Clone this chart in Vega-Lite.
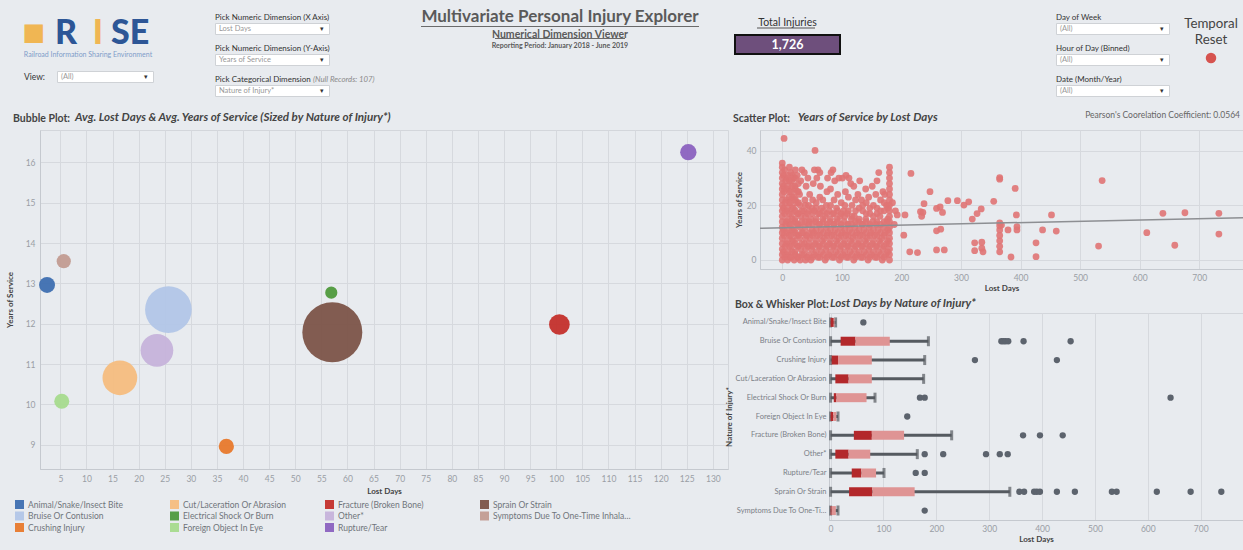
{
"$schema":"https://vega.github.io/schema/vega-lite/v6.json",
"background":"#e8ebef",
"padding":{"left":0,"top":0,"right":0,"bottom":6},
"autosize":{"type":"pad"},
"resolve":{"scale":{"color":"independent","size":"independent"},"legend":{"color":"independent","size":"independent"}},
"config":{
 "font":"Lato",
 "view":{"stroke":null},
 "axis":{"labelColor":"#9a9ea5","labelFontSize":8.5,"titleColor":"#444","titleFontSize":8,"titleFontWeight":"bold","gridColor":"#d6d9de","domainColor":"#c5c9cf","ticks":false},
 "title":{"color":"#444","fontSize":10.5,"fontWeight":"bold","anchor":"start","frame":"group","baseline":"alphabetic","offset":6},
 "legend":{"labelColor":"#70757b","labelFontSize":8.5}
},
"datasets":{
 "bubble":[
  {"cat":"Animal/Snake/Insect Bite","lostDays":2.45,"years":12.96,"n":43},
  {"cat":"Bruise Or Contusion","lostDays":25.7,"years":12.35,"n":367},
  {"cat":"Crushing Injury","lostDays":36.8,"years":8.96,"n":39},
  {"cat":"Cut/Laceration Or Abrasion","lostDays":16.4,"years":10.66,"n":203},
  {"cat":"Electrical Shock Or Burn","lostDays":56.9,"years":12.77,"n":25},
  {"cat":"Foreign Object In Eye","lostDays":5.27,"years":10.08,"n":38},
  {"cat":"Fracture (Broken Bone)","lostDays":100.6,"years":11.98,"n":72},
  {"cat":"Other*","lostDays":23.5,"years":11.34,"n":180},
  {"cat":"Rupture/Tear","lostDays":125.3,"years":16.25,"n":45},
  {"cat":"Sprain Or Strain","lostDays":57.1,"years":11.79,"n":606},
  {"cat":"Symptoms Due To One-Time Inhalation Exposure","lostDays":5.65,"years":13.55,"n":34}
 ],
 "scatter":[
  {"d":0,"y":0},{"d":0,"y":2},{"d":0,"y":4},{"d":0,"y":6},{"d":0,"y":8},{"d":0,"y":10},{"d":0,"y":12},{"d":0,"y":14},{"d":0,"y":16},{"d":0,"y":18},{"d":0,"y":20},{"d":0,"y":22},{"d":0,"y":24},{"d":0,"y":26},{"d":0,"y":28},{"d":0,"y":30},{"d":0,"y":32},{"d":0,"y":34},{"d":0,"y":35.5},
  {"d":3,"y":44.5},{"d":55,"y":40.1},
  {"d":2,"y":3},{"d":2,"y":11},{"d":2,"y":19},{"d":2,"y":27},{"d":2,"y":31},
  {"d":4,"y":1},{"d":5,"y":5},{"d":3,"y":9},{"d":6,"y":13},{"d":4,"y":17},{"d":5,"y":21},{"d":3,"y":25},{"d":6,"y":29},{"d":4,"y":33},
  {"d":7,"y":2},{"d":7,"y":6},{"d":7,"y":10},{"d":7,"y":14},{"d":7,"y":18},{"d":7,"y":22},{"d":7,"y":26},{"d":7,"y":30},
  {"d":9,"y":0},{"d":10,"y":3},{"d":9,"y":7},{"d":11,"y":11},{"d":10,"y":15},{"d":9,"y":19},{"d":11,"y":23},{"d":10,"y":27},{"d":9,"y":31},{"d":12,"y":34},
  {"d":12,"y":1},{"d":12,"y":5},{"d":12,"y":9},{"d":12,"y":13},{"d":12,"y":17},{"d":12,"y":21},{"d":12,"y":25},{"d":12,"y":29},
  {"d":15,"y":1},{"d":16,"y":5},{"d":14,"y":9},{"d":15,"y":13},{"d":16,"y":17},{"d":14,"y":21},{"d":15,"y":25},{"d":16,"y":29},{"d":14,"y":32},
  {"d":17,"y":3},{"d":17,"y":7},{"d":17,"y":11},{"d":17,"y":15},{"d":17,"y":19},{"d":17,"y":23},{"d":17,"y":27},{"d":17,"y":31},
  {"d":20,"y":0},{"d":21,"y":3},{"d":19,"y":7},{"d":20,"y":11},{"d":21,"y":15},{"d":19,"y":19},{"d":20,"y":23},{"d":21,"y":27},{"d":19,"y":30},{"d":22,"y":33},
  {"d":22,"y":2},{"d":22,"y":6},{"d":22,"y":10},{"d":22,"y":14},{"d":22,"y":18},{"d":22,"y":22},{"d":22,"y":26},{"d":22,"y":30},
  {"d":25,"y":1},{"d":26,"y":5},{"d":24,"y":9},{"d":25,"y":13},{"d":26,"y":17},{"d":24,"y":21},{"d":25,"y":25},{"d":27,"y":28},{"d":25,"y":31},
  {"d":27,"y":1},{"d":27,"y":5},{"d":27,"y":9},{"d":27,"y":13},{"d":27,"y":17},{"d":27,"y":21},{"d":27,"y":25},
  {"d":30,"y":0},{"d":31,"y":4},{"d":29,"y":8},{"d":30,"y":12},{"d":31,"y":16},{"d":30,"y":20},{"d":29,"y":24},{"d":31,"y":29},{"d":33,"y":33},
  {"d":33,"y":2},{"d":33,"y":6},{"d":33,"y":10},{"d":33,"y":14},{"d":33,"y":18},
  {"d":36,"y":2},{"d":37,"y":6},{"d":35,"y":10},{"d":38,"y":14},{"d":36,"y":18},{"d":38,"y":22},{"d":37,"y":32},{"d":40,"y":27},
  {"d":39,"y":0},{"d":39,"y":4},{"d":39,"y":8},{"d":39,"y":12},{"d":39,"y":16},{"d":39,"y":20},
  {"d":42,"y":1},{"d":43,"y":5},{"d":41,"y":9},{"d":44,"y":13},{"d":42,"y":17},{"d":44,"y":20},{"d":46,"y":24},{"d":43,"y":30},
  {"d":45,"y":2},{"d":45,"y":6},{"d":45,"y":10},{"d":45,"y":14},{"d":45,"y":18},
  {"d":48,"y":0},{"d":49,"y":4},{"d":47,"y":8},{"d":50,"y":11},{"d":48,"y":15},{"d":50,"y":19},{"d":52,"y":28},{"d":54,"y":33},
  {"d":51,"y":1},{"d":51,"y":5},{"d":51,"y":9},{"d":51,"y":13},{"d":51,"y":17},{"d":51,"y":22},
  {"d":54,"y":2},{"d":55,"y":6},{"d":53,"y":10},{"d":56,"y":14},{"d":54,"y":18},{"d":57,"y":21},{"d":58,"y":30},{"d":60,"y":33},
  {"d":57,"y":3},{"d":57,"y":7},{"d":57,"y":11},{"d":57,"y":15},{"d":57,"y":19},
  {"d":60,"y":1},{"d":61,"y":5},{"d":59,"y":9},{"d":62,"y":13},{"d":61,"y":17},{"d":63,"y":23},{"d":64,"y":27},{"d":63,"y":32},
  {"d":63,"y":1},{"d":63,"y":5},{"d":63,"y":9},{"d":63,"y":13},{"d":63,"y":17},
  {"d":66,"y":3},{"d":67,"y":7},{"d":65,"y":11},{"d":68,"y":15},{"d":66,"y":19},{"d":68,"y":22},
  {"d":69,"y":2},{"d":69,"y":6},{"d":69,"y":10},{"d":69,"y":14},{"d":69,"y":18},
  {"d":72,"y":0},{"d":73,"y":4},{"d":71,"y":8},{"d":74,"y":12},{"d":72,"y":16},{"d":74,"y":20},{"d":75,"y":25},{"d":76,"y":30},
  {"d":75,"y":1},{"d":75,"y":5},{"d":75,"y":9},{"d":75,"y":13},{"d":75,"y":17},
  {"d":78,"y":2},{"d":79,"y":6},{"d":77,"y":10},{"d":80,"y":14},{"d":79,"y":18},{"d":81,"y":26},{"d":82,"y":32},{"d":85,"y":33},
  {"d":81,"y":3},{"d":81,"y":7},{"d":81,"y":11},{"d":81,"y":15},{"d":81,"y":20},
  {"d":84,"y":1},{"d":85,"y":5},{"d":83,"y":9},{"d":86,"y":13},{"d":85,"y":17},{"d":87,"y":22},{"d":88,"y":29},
  {"d":87,"y":1},{"d":87,"y":5},{"d":87,"y":9},{"d":87,"y":13},{"d":87,"y":17},
  {"d":90,"y":3},{"d":91,"y":7},{"d":89,"y":11},{"d":92,"y":15},{"d":91,"y":19},{"d":93,"y":24},{"d":95,"y":30},
  {"d":93,"y":2},{"d":93,"y":6},{"d":93,"y":10},{"d":93,"y":14},{"d":93,"y":18},
  {"d":96,"y":0},{"d":97,"y":4},{"d":95,"y":8},{"d":98,"y":12},{"d":97,"y":16},{"d":99,"y":21},{"d":101,"y":30},
  {"d":99,"y":1},{"d":99,"y":5},{"d":99,"y":9},{"d":99,"y":13},{"d":99,"y":17},
  {"d":102,"y":2},{"d":103,"y":6},{"d":101,"y":10},{"d":104,"y":14},{"d":103,"y":18},{"d":106,"y":25},{"d":107,"y":31},
  {"d":105,"y":3},{"d":105,"y":7},{"d":105,"y":11},{"d":105,"y":16},{"d":105,"y":20},
  {"d":108,"y":1},{"d":109,"y":5},{"d":107,"y":9},{"d":110,"y":13},{"d":109,"y":17},{"d":111,"y":23},{"d":112,"y":30},
  {"d":111,"y":1},{"d":111,"y":5},{"d":111,"y":9},{"d":111,"y":13},{"d":111,"y":18},
  {"d":114,"y":3},{"d":115,"y":7},{"d":113,"y":11},{"d":116,"y":15},{"d":117,"y":20},{"d":115,"y":28},
  {"d":117,"y":2},{"d":117,"y":6},{"d":117,"y":10},{"d":117,"y":13},{"d":117,"y":16},
  {"d":120,"y":0},{"d":121,"y":4},{"d":119,"y":8},{"d":122,"y":12},{"d":121,"y":16},{"d":123,"y":22},{"d":120,"y":27},
  {"d":123,"y":1},{"d":123,"y":5},{"d":123,"y":9},{"d":123,"y":14},{"d":123,"y":18},
  {"d":126,"y":2},{"d":127,"y":6},{"d":125,"y":10},{"d":128,"y":14},{"d":129,"y":19},{"d":127,"y":24},{"d":130,"y":29},
  {"d":129,"y":3},{"d":129,"y":7},{"d":129,"y":11},{"d":129,"y":15},
  {"d":132,"y":1},{"d":133,"y":5},{"d":131,"y":9},{"d":134,"y":13},{"d":135,"y":18},{"d":133,"y":22},
  {"d":135,"y":1},{"d":135,"y":5},{"d":135,"y":9},{"d":135,"y":13},{"d":135,"y":20},
  {"d":138,"y":3},{"d":139,"y":7},{"d":137,"y":11},{"d":140,"y":15},{"d":141,"y":21},{"d":140,"y":26},
  {"d":141,"y":2},{"d":141,"y":6},{"d":141,"y":10},{"d":141,"y":14},{"d":141,"y":17},
  {"d":144,"y":0},{"d":145,"y":4},{"d":143,"y":8},{"d":146,"y":12},{"d":147,"y":17},{"d":145,"y":23},
  {"d":147,"y":1},{"d":147,"y":5},{"d":147,"y":9},{"d":147,"y":13},{"d":147,"y":19},
  {"d":150,"y":2},{"d":151,"y":6},{"d":149,"y":10},{"d":152,"y":14},{"d":153,"y":20},{"d":151,"y":27},
  {"d":153,"y":3},{"d":153,"y":7},{"d":153,"y":11},{"d":153,"y":16},
  {"d":156,"y":1},{"d":157,"y":5},{"d":155,"y":9},{"d":158,"y":13},{"d":159,"y":19},{"d":157,"y":24},{"d":159,"y":29},
  {"d":159,"y":1},{"d":159,"y":5},{"d":159,"y":9},{"d":159,"y":14},{"d":159,"y":17},
  {"d":162,"y":3},{"d":163,"y":7},{"d":161,"y":11},{"d":164,"y":16},{"d":165,"y":22},{"d":162,"y":32},
  {"d":165,"y":2},{"d":165,"y":6},{"d":165,"y":10},{"d":165,"y":13},{"d":165,"y":18},
  {"d":168,"y":0},{"d":169,"y":4},{"d":167,"y":8},{"d":170,"y":12},{"d":171,"y":18},{"d":169,"y":25},
  {"d":171,"y":1},{"d":171,"y":5},{"d":171,"y":9},{"d":171,"y":14},{"d":171,"y":21},
  {"d":174,"y":2},{"d":175,"y":6},{"d":173,"y":10},{"d":176,"y":14},{"d":175,"y":20},{"d":172,"y":24},
  {"d":177,"y":3},{"d":177,"y":7},{"d":177,"y":11},{"d":177,"y":15},{"d":177,"y":19},
  {"d":180,"y":0},{"d":180,"y":2},{"d":180,"y":4},{"d":180,"y":6},{"d":180,"y":8},{"d":180,"y":10},{"d":180,"y":12},{"d":180,"y":14},{"d":180,"y":16},{"d":180,"y":18},{"d":180,"y":20},{"d":180,"y":22},{"d":180,"y":24},{"d":180,"y":26},{"d":180,"y":28},{"d":180,"y":30},{"d":180,"y":32},{"d":180,"y":34},
  {"d":185,"y":21},{"d":188,"y":13},{"d":190,"y":18},{"d":193,"y":16.5},
  {"d":204,"y":9.1},{"d":206,"y":16.5},{"d":214,"y":3},{"d":216,"y":31.7},{"d":227,"y":2.7},{"d":232,"y":17.7},{"d":236,"y":17.4},{"d":234,"y":16},{"d":238,"y":20.6},{"d":248,"y":25},{"d":259,"y":18.9},{"d":265,"y":19.4},{"d":269,"y":17.4},{"d":259,"y":10.7},{"d":266,"y":11.3},{"d":259,"y":3.7},{"d":272,"y":3.7},{"d":278,"y":21.7},{"d":294,"y":21.7},{"d":305,"y":20.1},{"d":313,"y":21.3},{"d":319,"y":15},{"d":327,"y":17},{"d":323,"y":6.3},{"d":335,"y":6.5},{"d":323,"y":3.4},{"d":335,"y":4.3},{"d":337,"y":3},{"d":334,"y":18.7},{"d":355,"y":21.5},{"d":365,"y":29.6},{"d":365,"y":30.2},{"d":365,"y":3},{"d":365,"y":5},{"d":365,"y":7},{"d":365,"y":9},{"d":365,"y":11},{"d":365,"y":12.5},{"d":365,"y":13.6},{"d":368,"y":12.8},{"d":379,"y":11},{"d":384,"y":1.1},{"d":391,"y":26.2},{"d":393,"y":16.5},{"d":394,"y":12.2},{"d":394,"y":11},{"d":426,"y":6.3},{"d":426,"y":1.2},{"d":437,"y":11},{"d":452,"y":16.5},{"d":460,"y":10.6},{"d":531,"y":5.1},{"d":537,"y":29.1},{"d":612,"y":10},{"d":639,"y":17.1},{"d":659,"y":5.4},{"d":676,"y":17.3},{"d":733,"y":17.1},{"d":733,"y":9.5}
 ],
 "trend":[{"d":-37.4,"y":11.62},{"d":773.5,"y":15.5}],
 "boxstats":[
  {"cat":"Animal/Snake/Insect Bite","lo":0,"q1":0,"med":6,"q3":7.5,"hi":9.5},
  {"cat":"Bruise Or Contusion","lo":0,"q1":19,"med":47,"q3":112,"hi":185},
  {"cat":"Crushing Injury","lo":0,"q1":2,"med":14,"q3":78,"hi":178},
  {"cat":"Cut/Laceration Or Abrasion","lo":0,"q1":9,"med":34,"q3":78,"hi":176},
  {"cat":"Electrical Shock Or Burn","lo":0,"q1":6,"med":11,"q3":68,"hi":84},
  {"cat":"Foreign Object In Eye","lo":0,"q1":0,"med":5,"q3":11,"hi":14},
  {"cat":"Fracture (Broken Bone)","lo":0,"q1":44,"med":78,"q3":139,"hi":229},
  {"cat":"Other*","lo":0,"q1":9,"med":34,"q3":75,"hi":164},
  {"cat":"Rupture/Tear","lo":0,"q1":40,"med":58,"q3":86,"hi":101},
  {"cat":"Sprain Or Strain","lo":0,"q1":35,"med":79,"q3":159,"hi":339},
  {"cat":"Symptoms Due To One-Time Inhalation Exposure","lo":0,"q1":0,"med":2,"q3":10,"hi":14}
 ],
 "outliers":[
  {"cat":"Animal/Snake/Insect Bite","d":62},
  {"cat":"Bruise Or Contusion","d":323},{"cat":"Bruise Or Contusion","d":327},{"cat":"Bruise Or Contusion","d":331},{"cat":"Bruise Or Contusion","d":336},{"cat":"Bruise Or Contusion","d":365},{"cat":"Bruise Or Contusion","d":454},
  {"cat":"Crushing Injury","d":273},{"cat":"Crushing Injury","d":428},
  {"cat":"Electrical Shock Or Burn","d":169},{"cat":"Electrical Shock Or Burn","d":178},{"cat":"Electrical Shock Or Burn","d":643},
  {"cat":"Foreign Object In Eye","d":145},
  {"cat":"Fracture (Broken Bone)","d":364},{"cat":"Fracture (Broken Bone)","d":396},{"cat":"Fracture (Broken Bone)","d":439},
  {"cat":"Other*","d":178},{"cat":"Other*","d":213},{"cat":"Other*","d":294},{"cat":"Other*","d":320},{"cat":"Other*","d":335},
  {"cat":"Rupture/Tear","d":161},{"cat":"Rupture/Tear","d":178},
  {"cat":"Sprain Or Strain","d":357},{"cat":"Sprain Or Strain","d":366},{"cat":"Sprain Or Strain","d":385},{"cat":"Sprain Or Strain","d":390},{"cat":"Sprain Or Strain","d":396},{"cat":"Sprain Or Strain","d":428},{"cat":"Sprain Or Strain","d":462},{"cat":"Sprain Or Strain","d":532},{"cat":"Sprain Or Strain","d":541},{"cat":"Sprain Or Strain","d":617},{"cat":"Sprain Or Strain","d":681},{"cat":"Sprain Or Strain","d":739},
  {"cat":"Symptoms Due To One-Time Inhalation Exposure","d":178}
 ]
},
"spacing":130,
"bounds":"flush",
"vconcat":[
 {"hconcat":[
  {"width":25,"height":1,"data":{"values":[{}]},"mark":{"type":"point","opacity":0,"size":0}},
  {"vconcat":[
    {"width":114,"height":68,
     "layer":[
      {"data":{"values":[{"part":"icon","t":"■"}]},
       "mark":{"type":"text","fontSize":38,"color":"#f0b653","baseline":"middle"},
       "encoding":{"x":{"field":"part","type":"nominal","sort":["icon","R","I","SE"],"axis":null,"scale":{"type":"point","padding":0.28}},"text":{"field":"t"}}},
      {"data":{"values":[{"part":"R","t":"R"},{"part":"SE","t":"SE"}]},
       "mark":{"type":"text","fontSize":34,"fontWeight":900,"color":"#2d5696","baseline":"middle"},
       "encoding":{"x":{"field":"part","type":"nominal","sort":["icon","R","I","SE"],"axis":null},"text":{"field":"t"}}},
      {"data":{"values":[{"part":"I","t":"I"}]},
       "mark":{"type":"text","fontSize":34,"fontWeight":900,"color":"#f0b653","baseline":"middle"},
       "encoding":{"x":{"field":"part","type":"nominal","sort":["icon","R","I","SE"],"axis":null},"text":{"field":"t"}}},
      {"data":{"values":[{"tag":"Railroad Information Sharing Environment"}]},
       "mark":{"type":"text","fontSize":7,"color":"#7f9cc9","dy":21,"dx":6},
       "encoding":{"text":{"field":"tag"}}}
     ]},
    {"hconcat":[
      {"width":1,"height":11,"data":{"values":[{}]},"mark":{"type":"point","opacity":0,"size":0}},
      {"width":96,"height":11,"view":{"fill":"#ffffff","stroke":"#cfd2d6"},
       "title":{"text":"View:","orient":"left","angle":0,"align":"right","baseline":"middle","anchor":"middle","offset":12,"dx":21,"fontSize":8.5,"fontWeight":"normal","color":"#333"},
       "data":{"values":[{"v":"(All)","a":"▾"}]},
       "layer":[
        {"mark":{"type":"text","align":"left","dx":4,"fontSize":7.5,"color":"#999"},"encoding":{"x":{"field":"v","type":"nominal","axis":null,"scale":{"type":"point","padding":0}},"text":{"field":"v"}}},
        {"mark":{"type":"text","align":"right","dx":-5,"fontSize":7,"color":"#333"},"encoding":{"x":{"field":"a","type":"nominal","axis":null},"text":{"field":"a"}}}
       ]}
    ],"spacing":31,"bounds":"flush"}
  ],"spacing":3,"bounds":"flush"},
  {"width":190,"height":1,"data":{"values":[{}]},"mark":{"type":"point","opacity":0,"size":0}},
  {"vconcat":[
    {"width":114,"height":3,"data":{"values":[{}]},"mark":{"type":"point","opacity":0,"size":0}},
    {"width":114,"height":11,"view":{"fill":"#ffffff","stroke":"#cfd2d6"},
     "title":{"text":"Pick Numeric Dimension (X Axis)","offset":1,"fontSize":8,"fontWeight":"normal","color":"#333"},
     "data":{"values":[{"v":"Lost Days","a":"▾"}]},
     "layer":[
      {"mark":{"type":"text","align":"left","dx":4,"fontSize":7.5,"color":"#999"},"encoding":{"x":{"field":"v","type":"nominal","axis":null,"scale":{"type":"point","padding":0}},"text":{"field":"v"}}},
      {"mark":{"type":"text","align":"right","dx":-5,"fontSize":7,"color":"#333"},"encoding":{"x":{"field":"a","type":"nominal","axis":null},"text":{"field":"a"}}}
     ]},
    {"width":114,"height":11,"view":{"fill":"#ffffff","stroke":"#cfd2d6"},
     "title":{"text":"Pick Numeric Dimension (Y-Axis)","offset":1,"fontSize":8,"fontWeight":"normal","color":"#333"},
     "data":{"values":[{"v":"Years of Service","a":"▾"}]},
     "layer":[
      {"mark":{"type":"text","align":"left","dx":4,"fontSize":7.5,"color":"#999"},"encoding":{"x":{"field":"v","type":"nominal","axis":null,"scale":{"type":"point","padding":0}},"text":{"field":"v"}}},
      {"mark":{"type":"text","align":"right","dx":-5,"fontSize":7,"color":"#333"},"encoding":{"x":{"field":"a","type":"nominal","axis":null},"text":{"field":"a"}}}
     ]},
    {"width":114,"height":11,"view":{"fill":"#ffffff","stroke":"#cfd2d6"},
     "title":{"text":"Pick Categorical Dimension","offset":1,"fontSize":8,"fontWeight":"normal","color":"#333"},
     "data":{"values":[{"v":"Nature of Injury*","a":"▾"}]},
     "layer":[
      {"mark":{"type":"text","align":"left","dx":4,"fontSize":7.5,"color":"#999"},"encoding":{"x":{"field":"v","type":"nominal","axis":null,"scale":{"type":"point","padding":0}},"text":{"field":"v"}}},
      {"mark":{"type":"text","align":"right","dx":-5,"fontSize":7,"color":"#333"},"encoding":{"x":{"field":"a","type":"nominal","axis":null},"text":{"field":"a"}}}
     ]},
    {"width":114,"height":1,"data":{"values":[{}]},"mark":{"type":"point","opacity":0,"size":0},
     "title":{"text":"(Null Records: 107)","offset":32,"dx":98,"fontSize":7.8,"fontStyle":"italic","fontWeight":"normal","color":"#8a8a8a"}}
  ],"spacing":20,"bounds":"flush"},
  {"width":206,"height":1,"data":{"values":[{}]},"mark":{"type":"point","opacity":0,"size":0}},
  {"vconcat":[
    {"width":278,"height":25,"data":{"values":[{}]},"mark":{"type":"point","opacity":0,"size":0}},
    {"width":278,"height":1,"view":{"fill":"#6a6a6a"},"data":{"values":[{}]},"mark":{"type":"point","opacity":0,"size":0},
     "title":{"text":"Multivariate Personal Injury Explorer","anchor":"middle","fontSize":17,"color":"#5a5a5a","offset":0}},
    {"width":278,"height":9,"data":{"values":[{}]},"mark":{"type":"point","opacity":0,"size":0},
     "title":{"text":"Numerical Dimension Viewer","orient":"bottom","anchor":"middle","baseline":"top","offset":0,"dy":-7,"fontSize":10.5,"color":"#5a5a5a","subtitle":"Reporting Period: January 2018 - June 2019","subtitleFontSize":7,"subtitleFontWeight":"bold","subtitleColor":"#5a5a5a","subtitlePadding":1.5}},
    {"hconcat":[
      {"width":74,"height":1,"data":{"values":[{}]},"mark":{"type":"point","opacity":0,"size":0}},
      {"width":130,"height":1,"view":{"fill":"#6a6a6a"},"data":{"values":[{}]},"mark":{"type":"point","opacity":0,"size":0}}
    ],"spacing":0,"bounds":"flush"}
  ],"spacing":1,"bounds":"flush"},
  {"width":314,"height":1,"data":{"values":[{}]},"mark":{"type":"point","opacity":0,"size":0}},
  {"vconcat":[
    {"width":105,"height":20,"data":{"values":[{}]},"mark":{"type":"point","opacity":0,"size":0}},
    {"hconcat":[
      {"width":22,"height":1,"data":{"values":[{}]},"mark":{"type":"point","opacity":0,"size":0}},
      {"width":58,"height":1,"view":{"fill":"#555555"},"data":{"values":[{}]},"mark":{"type":"point","opacity":0,"size":0}}
    ],"spacing":0,"bounds":"flush"},
    {"width":105,"height":19,"view":{"fill":"#6e4f7c","stroke":"#111111","strokeWidth":2},
     "title":{"text":"Total Injuries","anchor":"middle","fontSize":10.5,"fontWeight":"normal","color":"#333","offset":6.7},
     "data":{"values":[{"total":1726}]},
     "mark":{"type":"text","color":"#ffffff","fontSize":12.5,"fontWeight":"bold"},
     "encoding":{"text":{"field":"total","type":"quantitative","format":","}}}
  ],"spacing":7.5,"bounds":"flush"},
  {"width":321,"height":1,"data":{"values":[{}]},"mark":{"type":"point","opacity":0,"size":0}},
  {"vconcat":[
    {"width":113,"height":3,"data":{"values":[{}]},"mark":{"type":"point","opacity":0,"size":0}},
    {"width":113,"height":11,"view":{"fill":"#ffffff","stroke":"#cfd2d6"},
     "title":{"text":"Day of Week","offset":1,"fontSize":8,"fontWeight":"normal","color":"#333"},
     "data":{"values":[{"v":"(All)","a":"▾"}]},
     "layer":[
      {"mark":{"type":"text","align":"left","dx":4,"fontSize":7.5,"color":"#999"},"encoding":{"x":{"field":"v","type":"nominal","axis":null,"scale":{"type":"point","padding":0}},"text":{"field":"v"}}},
      {"mark":{"type":"text","align":"right","dx":-5,"fontSize":7,"color":"#333"},"encoding":{"x":{"field":"a","type":"nominal","axis":null},"text":{"field":"a"}}}
     ]},
    {"width":113,"height":11,"view":{"fill":"#ffffff","stroke":"#cfd2d6"},
     "title":{"text":"Hour of Day (Binned)","offset":1,"fontSize":8,"fontWeight":"normal","color":"#333"},
     "data":{"values":[{"v":"(All)","a":"▾"}]},
     "layer":[
      {"mark":{"type":"text","align":"left","dx":4,"fontSize":7.5,"color":"#999"},"encoding":{"x":{"field":"v","type":"nominal","axis":null,"scale":{"type":"point","padding":0}},"text":{"field":"v"}}},
      {"mark":{"type":"text","align":"right","dx":-5,"fontSize":7,"color":"#333"},"encoding":{"x":{"field":"a","type":"nominal","axis":null},"text":{"field":"a"}}}
     ]},
    {"width":113,"height":11,"view":{"fill":"#ffffff","stroke":"#cfd2d6"},
     "title":{"text":"Date (Month/Year)","offset":1,"fontSize":8,"fontWeight":"normal","color":"#333"},
     "data":{"values":[{"v":"(All)","a":"▾"}]},
     "layer":[
      {"mark":{"type":"text","align":"left","dx":4,"fontSize":7.5,"color":"#999"},"encoding":{"x":{"field":"v","type":"nominal","axis":null,"scale":{"type":"point","padding":0}},"text":{"field":"v"}}},
      {"mark":{"type":"text","align":"right","dx":-5,"fontSize":7,"color":"#333"},"encoding":{"x":{"field":"a","type":"nominal","axis":null},"text":{"field":"a"}}}
     ]}
  ],"spacing":20,"bounds":"flush"},
  {"width":133,"height":1,"data":{"values":[{}]},"mark":{"type":"point","opacity":0,"size":0}},
  {"vconcat":[
    {"width":44,"height":1,"data":{"values":[{}]},"mark":{"type":"point","opacity":0,"size":0}},
    {"width":44,"height":16,
     "title":{"text":["Temporal","Reset"],"anchor":"middle","fontSize":13.3,"fontWeight":"normal","color":"#444","lineHeight":16,"baseline":"bottom","offset":6,"dy":16},
     "data":{"values":[{"k":"reset"}]},
     "mark":{"type":"point","filled":true,"color":"#d6534f","size":110,"opacity":1}}
  ],"spacing":49,"bounds":"flush"}
 ],"spacing":0,"bounds":"flush"},
 {"hconcat":[
  {"width":10,"height":1,"data":{"values":[{}]},"mark":{"type":"point","opacity":0,"size":0},"title":{"text":"Bubble Plot:","dx":13}},
  {"width":688,"height":339,"view":{"stroke":"#d3d6db"},
   "title":{"text":"Avg. Lost Days & Avg. Years of Service (Sized by Nature of Injury*)","fontStyle":"italic","fontSize":11.6,"dx":35},
   "data":{"name":"bubble"},
   "mark":{"type":"circle","opacity":0.95},
   "encoding":{
    "x":{"field":"lostDays","type":"quantitative","title":"Lost Days","scale":{"domain":[1.1,132.9],"nice":false,"zero":false},"axis":{"values":[5,10,15,20,25,30,35,40,45,50,55,60,65,70,75,80,85,90,95,100,105,110,115,120,125,130],"grid":true,"labelPadding":5,"titlePadding":5}},
    "y":{"field":"years","type":"quantitative","title":"Years of Service","scale":{"domain":[8.4,16.8],"nice":false,"zero":false},"axis":{"values":[9,10,11,12,13,14,15,16],"grid":true,"labelPadding":5,"titlePadding":11}},
    "size":{"field":"n","type":"quantitative","scale":{"domain":[0,606],"range":[0,3600]},"legend":null},
    "color":{"field":"cat","type":"nominal",
      "scale":{"domain":["Animal/Snake/Insect Bite","Bruise Or Contusion","Crushing Injury","Cut/Laceration Or Abrasion","Electrical Shock Or Burn","Foreign Object In Eye","Fracture (Broken Bone)","Other*","Rupture/Tear","Sprain Or Strain","Symptoms Due To One-Time Inhalation Exposure"],
               "range":["#3e6fb0","#b2c6e7","#e8792b","#f6bd7e","#4f9a3c","#a6db8d","#c4302b","#c6b3da","#8b62bf","#7c5448","#c29c91"]},
      "legend":{"orient":"none","legendX":15,"legendY":370,"columns":4,"symbolType":"square","symbolSize":81,"labelLimit":140,"columnPadding":4,"rowPadding":2.5,"gridAlign":"all","title":null,"symbolStrokeWidth":0}}
   }},
  {"vconcat":[
    {"hconcat":[
      {"width":1,"height":1,"data":{"values":[{}]},"mark":{"type":"point","opacity":0,"size":0},"title":{"text":"Scatter Plot:","dx":-25}},
      {"width":1,"height":1,"data":{"values":[{}]},"mark":{"type":"point","opacity":0,"size":0},"title":{"text":"Years of Service by Lost Days","fontStyle":"italic","fontSize":11.6,"dx":38.7}},
      {"width":483,"height":139,"view":{"stroke":"#d3d6db"},
       "title":{"text":"Pearson's Coorelation Coefficient: 0.0564","anchor":"end","fontSize":8.5,"fontWeight":"normal","color":"#666","offset":11,"dx":-3},
       "layer":[
        {"data":{"name":"scatter"},"mark":{"type":"circle","size":46,"color":"#e07474","opacity":0.9},
         "encoding":{
          "x":{"field":"d","type":"quantitative","title":"Lost Days","scale":{"domain":[-37.4,773.5],"nice":false,"zero":false},"axis":{"values":[0,50,100,150,200,250,300,350,400,450,500,550,600,650,700,750],"grid":true,"labelPadding":4,"titlePadding":3}},
          "y":{"field":"y","type":"quantitative","title":"Years of Service","scale":{"domain":[-3.3,47.6],"nice":false,"zero":false},"axis":{"values":[0,10,20,30,40],"grid":true,"labelPadding":4,"titlePadding":3}}}},
        {"data":{"name":"trend"},"mark":{"type":"line","color":"#8d8f93","strokeWidth":1.5},
         "encoding":{"x":{"field":"d","type":"quantitative","title":"Lost Days"},"y":{"field":"y","type":"quantitative","title":"Years of Service"}}}
       ]}
    ],"spacing":0,"bounds":"flush"},
    {"hconcat":[
      {"width":1,"height":1,"data":{"values":[{}]},"mark":{"type":"point","opacity":0,"size":0},"title":{"text":"Box & Whisker Plot:","dx":-23,"offset":3}},
      {"width":414,"height":207,"view":{"stroke":"#d3d6db"},
       "title":{"text":"Lost Days by Nature of Injury*","fontStyle":"italic","fontSize":11.6,"dx":1,"offset":3},
       "layer":[
        {"data":{"name":"boxstats"},"mark":{"type":"rule","color":"#555a60","strokeWidth":3},
         "encoding":{
          "y":{"field":"cat","type":"nominal","title":"Nature of Injury*","sort":["Animal/Snake/Insect Bite","Bruise Or Contusion","Crushing Injury","Cut/Laceration Or Abrasion","Electrical Shock Or Burn","Foreign Object In Eye","Fracture (Broken Bone)","Other*","Rupture/Tear","Sprain Or Strain","Symptoms Due To One-Time Inhalation Exposure"],"axis":{"labelLimit":94,"labelFontSize":7.5,"labelColor":"#7b8087","labelPadding":3,"titlePadding":1}},
          "x":{"field":"lo","type":"quantitative","title":"Lost Days","scale":{"domain":[-3,780],"nice":false,"zero":false},"axis":{"values":[0,50,100,150,200,250,300,350,400,450,500,550,600,650,700,750],"grid":true,"labelPadding":4,"titlePadding":3}},
          "x2":{"field":"hi"}}},
        {"data":{"name":"boxstats"},"transform":[{"fold":["lo","hi"],"as":["k","v"]}],"mark":{"type":"tick","color":"#555a60","thickness":3,"size":10},
         "encoding":{
          "y":{"field":"cat","type":"nominal","title":"Nature of Injury*","sort":["Animal/Snake/Insect Bite","Bruise Or Contusion","Crushing Injury","Cut/Laceration Or Abrasion","Electrical Shock Or Burn","Foreign Object In Eye","Fracture (Broken Bone)","Other*","Rupture/Tear","Sprain Or Strain","Symptoms Due To One-Time Inhalation Exposure"]},
          "x":{"field":"v","type":"quantitative","title":"Lost Days"}}},
        {"data":{"name":"boxstats"},"mark":{"type":"bar","color":"#b3282b","size":9},
         "encoding":{
          "y":{"field":"cat","type":"nominal","title":"Nature of Injury*","sort":["Animal/Snake/Insect Bite","Bruise Or Contusion","Crushing Injury","Cut/Laceration Or Abrasion","Electrical Shock Or Burn","Foreign Object In Eye","Fracture (Broken Bone)","Other*","Rupture/Tear","Sprain Or Strain","Symptoms Due To One-Time Inhalation Exposure"]},
          "x":{"field":"q1","type":"quantitative","title":"Lost Days"},"x2":{"field":"med"}}},
        {"data":{"name":"boxstats"},"mark":{"type":"bar","color":"#df9494","size":9},
         "encoding":{
          "y":{"field":"cat","type":"nominal","title":"Nature of Injury*","sort":["Animal/Snake/Insect Bite","Bruise Or Contusion","Crushing Injury","Cut/Laceration Or Abrasion","Electrical Shock Or Burn","Foreign Object In Eye","Fracture (Broken Bone)","Other*","Rupture/Tear","Sprain Or Strain","Symptoms Due To One-Time Inhalation Exposure"]},
          "x":{"field":"med","type":"quantitative","title":"Lost Days"},"x2":{"field":"q3"}}},
        {"data":{"name":"outliers"},"mark":{"type":"circle","size":40,"color":"#5c636d","opacity":1},
         "encoding":{
          "y":{"field":"cat","type":"nominal","title":"Nature of Injury*","sort":["Animal/Snake/Insect Bite","Bruise Or Contusion","Crushing Injury","Cut/Laceration Or Abrasion","Electrical Shock Or Burn","Foreign Object In Eye","Fracture (Broken Bone)","Other*","Rupture/Tear","Sprain Or Strain","Symptoms Due To One-Time Inhalation Exposure"]},
          "x":{"field":"d","type":"quantitative","title":"Lost Days"}}}
       ]}
    ],"spacing":70,"bounds":"flush"}
  ],"spacing":183,"bounds":"flush"}
 ],"spacing":30,"bounds":"flush"}
]
}
